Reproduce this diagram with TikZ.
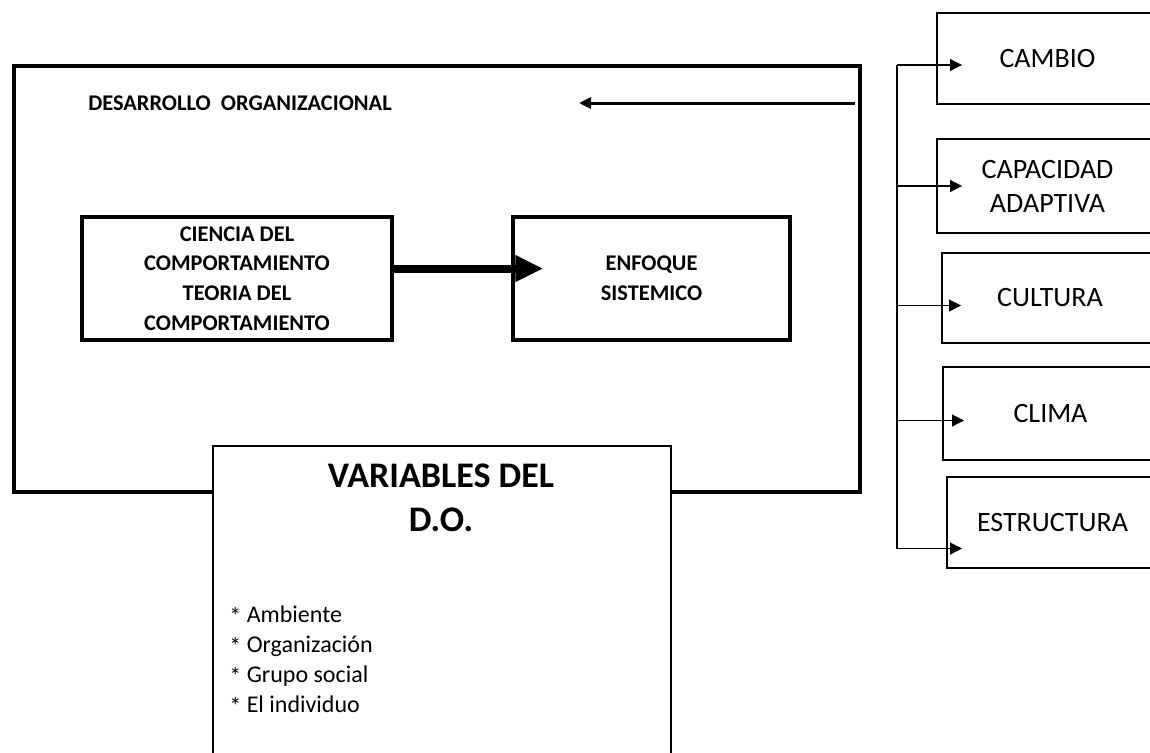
\documentclass[tikz,border=0pt]{standalone}
\usepackage{fontspec}
\setmainfont{Carlito}
\usetikzlibrary{arrows.meta}

\tikzset{
	rbox/.style={draw, line width=1pt, inner sep=0pt, align=center,
		font=\fontsize{14}{17}\selectfont},
	bbox/.style={draw, line width=1.75pt, inner sep=0pt, minimum height=61.5pt,
		align=center, font=\bfseries\fontsize{11.2}{14.8}\selectfont},
	tip/.style={line width=0.6pt, -{Triangle[length=6pt,width=6pt]}}
}

\begin{document}
\begin{tikzpicture}[x=0.5pt,y=-0.5pt]
		\useasboundingbox (0,0) rectangle (1150,752);
		\node[draw, line width=2pt, minimum width=423pt, minimum height=213pt] (do) at (437,279) {};
		\node[font=\bfseries\fontsize{11.2}{13}\selectfont] (dotitle) at (240,103) {DESARROLLO\ \ ORGANIZACIONAL};
		\coordinate (dotip) at (579,103);
		\draw[line width=1.5pt, shorten <=3.5pt, -{Triangle[length=6pt,width=5.5pt]}] (do.east |- dotitle) -- (dotip);
		
		\node[bbox, minimum width=155pt] (ciencia) at (237,278.5) {CIENCIA DEL\\COMPORTAMIENTO\\TEORIA DEL\\COMPORTAMIENTO};
		\node[bbox, minimum width=138.5pt] (enfoque) at (651.5,278.5) {ENFOQUE\\SISTEMICO};
		\draw[line width=4pt, -{Triangle[length=14pt,width=12.5pt]}] ([yshift=5pt]ciencia.east) -- ([xshift=16pt,yshift=5pt]enfoque.west);
		
		\node[draw, fill=white, line width=1pt, minimum width=229pt, minimum height=162.5pt, anchor=north west] (var) at (212,445) {};
		\node[font=\bfseries\fontsize{18}{22}\selectfont, align=center] (vartitle) at (441,498) {VARIABLES DEL\\D.O.};
		\foreach \t [count=\i] in {Ambiente,Organización,Grupo social,El individuo}
			\node[anchor=base west, inner sep=0pt, font=\fontsize{12}{15}\selectfont] (item\i) at (229,{592+30*\i}) {\raisebox{-0.25ex}{*} \t};
		
		\node[rbox, minimum width=110.5pt, minimum height=45.5pt] (cambio) at (1047.5,58.5) {CAMBIO};
		\node[rbox, minimum width=110.5pt, minimum height=47pt] (capac) at (1047.5,186) {CAPACIDAD\\ADAPTIVA};
		\node[rbox, minimum width=108pt, minimum height=45pt] (cultura) at (1050,298) {CULTURA};
		\node[rbox, minimum width=107.5pt, minimum height=46.5pt] (clima) at (1050.5,413.5) {CLIMA};
		\node[rbox, minimum width=105.5pt, minimum height=45.5pt] (estruct) at (1052.5,522.5) {ESTRUCTURA};
		
		\coordinate (t1) at ([xshift=13pt,yshift=-3.25pt]cambio.west);
		\coordinate (t2) at ([xshift=13pt]capac.west);
		\coordinate (t3) at ([xshift=10pt,yshift=-3.75pt]cultura.west);
		\coordinate (t4) at ([xshift=11pt,yshift=-3.5pt]clima.west);
		\coordinate (t5) at ([xshift=8pt,yshift=-13pt]estruct.west);
		\coordinate (spine) at (897,0);
		\draw[line width=0.6pt] (spine |- t1) -- (spine |- t5);
		\foreach \i in {1,...,5}
			\draw[tip] (spine |- t\i) -- (t\i);
\end{tikzpicture}
\end{document}
